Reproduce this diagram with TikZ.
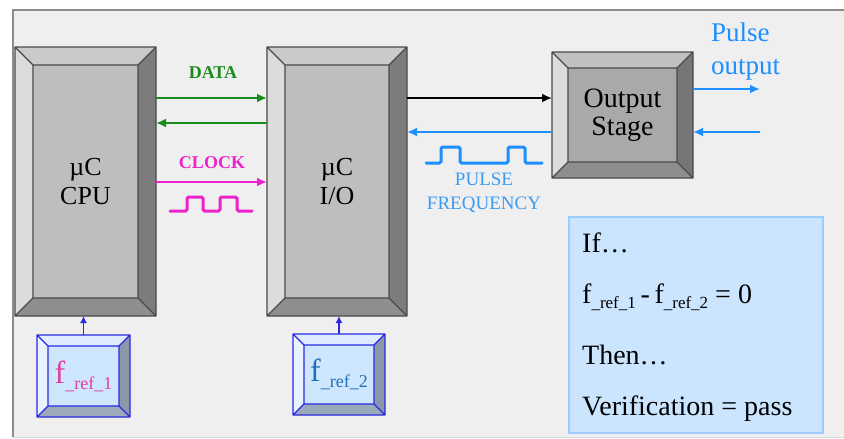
\documentclass[tikz,border=0pt]{standalone}
\usepackage{fontspec}
\setmainfont{Liberation Serif}
\usetikzlibrary{arrows.meta,calc}
\definecolor{bgc}{HTML}{EFEFEF}
\definecolor{framec}{HTML}{8C8C8C}
\definecolor{facec}{HTML}{BEBEBE}
\definecolor{topc}{HTML}{CACACA}
\definecolor{leftc}{HTML}{DCDCDC}
\definecolor{rightc}{HTML}{7C7C7C}
\definecolor{botc}{HTML}{8E8E8E}
\definecolor{edgec}{HTML}{4A4A4A}
\definecolor{oface}{HTML}{A9A9A9}
\definecolor{bface}{HTML}{CFE6FF}
\definecolor{btop}{HTML}{DDEDFF}
\definecolor{bleft}{HTML}{E8F3FF}
\definecolor{bright}{HTML}{8A98A8}
\definecolor{bbot}{HTML}{9AAABB}
\definecolor{bedge}{HTML}{2A2AE0}
\definecolor{datac}{HTML}{1B8C1B}
\definecolor{clkc}{HTML}{EE22CC}
\definecolor{pulsec}{HTML}{1E8FFF}
\definecolor{ptext}{HTML}{3C9BF0}
\definecolor{pinkc}{HTML}{E0409A}
\definecolor{blue2}{HTML}{1F6FB5}
\definecolor{infofill}{HTML}{CCE5FF}
\definecolor{infodraw}{HTML}{9CCCFF}
\newcommand\bevelit[7]{%
 \coordinate (bvA) at (#1.north west);
 \coordinate (bvB) at (#1.north east);
 \coordinate (bvC) at (#1.south east);
 \coordinate (bvD) at (#1.south west);
 \coordinate (bva) at ([xshift=#2pt,yshift=-#2pt]#1.north west);
 \coordinate (bvb) at ([xshift=-#2pt,yshift=-#2pt]#1.north east);
 \coordinate (bvc) at ([xshift=-#2pt,yshift=#2pt]#1.south east);
 \coordinate (bvd) at ([xshift=#2pt,yshift=#2pt]#1.south west);
 \fill[#3] (bvA)--(bvB)--(bvb)--(bva)--cycle;
 \fill[#4] (bvA)--(bva)--(bvd)--(bvD)--cycle;
 \fill[#5] (bvB)--(bvC)--(bvc)--(bvb)--cycle;
 \fill[#6] (bvD)--(bvd)--(bvc)--(bvC)--cycle;
 \draw[#7, line width=1.2pt, line join=round] (bvA)--(bvB)--(bvC)--(bvD)--cycle (bva)--(bvb)--(bvc)--(bvd)--cycle (bvA)--(bva) (bvB)--(bvb) (bvC)--(bvc) (bvD)--(bvd);
}
\tikzset{
 blk/.style={rectangle, outer sep=0pt, inner sep=0pt, fill=facec, align=center, font=\fontsize{26}{29}\selectfont},
 refbox/.style={rectangle, outer sep=0pt, inner sep=0pt, fill=bface},
 arr/.style={line width=2.6pt, -{Latex[length=10pt,width=9pt]}},
 wave/.style={line width=3pt, rounded corners=1.5pt, line cap=round},
 lbl/.style={inner sep=0pt, align=center},
 infotxt/.style={inner sep=0pt, anchor=west, font=\fontsize{28}{30}\selectfont}
}
\begin{document}
\begin{tikzpicture}[x=1pt,y=-1pt]
\useasboundingbox (0,0) rectangle (844,439);
\fill[white] (0,0) rectangle (844,439);
\fill[bgc] (13,10) rectangle (844,437);
\draw[framec, line width=1.3pt] (844,10) -- (13,10) -- (13,437);
\draw[white!85!black, line width=0.8pt] (13,437) -- (844,437);

% blocks
\node[blk, minimum width=141pt, minimum height=269pt] (cpu) at (85.5,181.5) {µC\\CPU};
\bevelit{cpu}{18}{topc}{leftc}{rightc}{botc}{edgec}
\node[blk, minimum width=140pt, minimum height=269pt] (io) at (337,181.5) {µC\\I/O};
\bevelit{io}{18}{topc}{leftc}{rightc}{botc}{edgec}
\node[blk, fill=oface, minimum width=141pt, minimum height=126pt, font=\fontsize{28}{28}\selectfont] (out) at (622.5,115) {Output\\Stage};
\bevelit{out}{16}{topc!95!black}{leftc}{rightc!95!black}{botc}{edgec}

% reference boxes
\node[refbox, minimum width=93pt, minimum height=82pt] (fr1) at (83.5,376) {\textcolor{pinkc}{\fontsize{32}{32}\selectfont f\raisebox{-6pt}{\fontsize{18}{18}\selectfont \_ref\_1}}};
\bevelit{fr1}{11}{btop}{bleft}{bright}{bbot}{bedge}
\node[refbox, minimum width=92pt, minimum height=81pt] (fr2) at (339,374.5) {\textcolor{blue2}{\fontsize{32}{32}\selectfont f\raisebox{-6pt}{\fontsize{18}{18}\selectfont \_ref\_2}}};
\bevelit{fr2}{11}{btop}{bleft}{bright}{bbot}{bedge}
\draw[bedge, line width=1.3pt, -{Latex[length=7pt,width=7pt]}] (fr1.north) -- (fr1.north |- cpu.south);
\draw[bedge, line width=1.3pt, -{Latex[length=7pt,width=7pt]}] (fr2.north) -- (fr2.north |- io.south);

% DATA
\draw[arr, datac] ([yshift=-51pt]cpu.north east) -- ([yshift=-51pt]io.north west);
\draw[arr, datac] ([yshift=-76pt]io.north west) -- ([yshift=-76pt]cpu.north east);
\node[lbl, text=datac, font=\bfseries\fontsize{18}{18}\selectfont] (datal) at (213,73) {DATA};
% CLOCK
\draw[arr, clkc] ([yshift=-135pt]cpu.north east) -- ([yshift=-135pt]io.north west);
\node[lbl, text=clkc, font=\bfseries\fontsize{18}{18}\selectfont] (clkl) at (212,163) {CLOCK};
\draw[wave, clkc] (170,211) -| (187,197) -| (203,211) -| (220,197) -| (237,211) -- (252,211);

% IO <-> output stage
\draw[arr, black, line width=2pt] ([yshift=-51pt]io.north east) -- ([yshift=-46pt]out.north west);
\draw[arr, pulsec] ([yshift=-80pt]out.north west) -- ([yshift=-85pt]io.north east);
\draw[wave, pulsec] (426,163) -| (441,147) -| (460,163) -| (508,147) -| (525,163) -- (542,163);
\node[lbl, text=ptext, font=\fontsize{19}{24}\selectfont] (pfl) at (484,193) {PULSE\\FREQUENCY};

% pulse output
\coordinate (po1) at (760,89);
\coordinate (po2) at (760,132);
\draw[arr, pulsec] ([yshift=-37pt]out.north east) -- (po1);
\draw[arr, pulsec] (po2) -- ([yshift=-80pt]out.north east);
\node[lbl, anchor=west, align=left, text=pulsec, font=\fontsize{27}{33}\selectfont] (pol) at (711,52) {Pulse\\output};

% info box
\node[rectangle, fill=infofill, draw=infodraw, line width=2pt, minimum width=254pt, minimum height=216pt] (info) at (696,325) {};
\node[infotxt] (t1) at (582,243) {If…};
\node[infotxt] (t2) at (582,297) {f\raisebox{-5pt}{\fontsize{17}{17}\selectfont\_ref\_1}\,-\,f\raisebox{-5pt}{\fontsize{17}{17}\selectfont\_ref\_2} = 0};
\node[infotxt] (t3) at (582,355) {Then…};
\node[infotxt] (t4) at (582,409) {Verification = pass};
\end{tikzpicture}
\end{document}
